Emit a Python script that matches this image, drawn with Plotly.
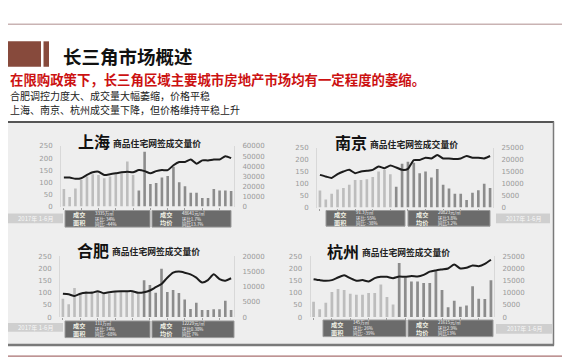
import plotly.graph_objects as go

W, H = 570, 360

# ---------------- data ----------------
months = ["2015-%02d" % m for m in range(1, 13)] + ["2016-%02d" % m for m in range(1, 13)] + ["2017-%02d" % m for m in range(1, 7)]

sh_area = [73, 40, 75, 110, 124, 133, 130, 117, 124, 133, 137, 186, 130, 66, 226,
           93, 97, 120, 126, 164, 100, 84, 57, 57, 35, 35, 73, 66, 66, 64]
sh_price = [28750, 28750, 27500, 28100, 31300, 33900, 34500, 31300, 32000, 32900, 33900, 34500, 33900, 36100, 35100,
            32900, 35100, 36100, 36100, 40900, 44100, 44100, 46600, 42500, 45700, 45700, 46600, 46600, 49800, 47900]

nj_area = [71, 34, 58, 76, 82, 96, 115, 115, 119, 128, 151, 158, 140, 87, 184,
           192, 188, 144, 151, 126, 162, 96, 80, 58, 58, 32, 62, 73, 100, 82]
nj_price = [13700, 13000, 12400, 14000, 15100, 15800, 14400, 15100, 15400, 15800, 17200, 16500, 17600, 16800, 15800,
            16200, 19900, 19900, 20900, 20600, 22000, 20600, 20600, 20300, 20600, 21600, 20900, 20900, 20600, 21600]

hf_area = [76, 53, 120, 96, 107, 107, 106, 96, 96, 103, 107, 107, 103, 96, 152,
           132, 100, 199, 103, 112, 99, 72, 33, 59, 29, 29, 32, 32, 67, 29]
hf_price = [7700, 7500, 6950, 7700, 8000, 8000, 8550, 7900, 8200, 8450, 8550, 8550, 8550, 8000, 8200,
            8770, 9840, 10900, 13000, 14650, 15000, 14650, 14100, 13000, 11400, 12200, 14100, 12500, 12000, 12800]

hz_area = [63, 32, 59, 103, 116, 112, 96, 92, 92, 99, 99, 134, 83, 52, 223,
           163, 147, 147, 140, 140, 190, 112, 40, 67, 43, 48, 127, 76, 74, 152]
hz_price = [15640, 15240, 14970, 15240, 16310, 17250, 16040, 14970, 15240, 14700, 16040, 16580, 16580, 16040, 16710,
            16580, 16980, 16710, 17380, 18720, 19250, 19650, 20050, 21660, 20050, 20320, 21260, 20990, 21930, 23660]

city_names = ["上海", "南京", "合肥", "杭州"]
subtitle = "商品住宅网签成交量价"
area_text = [["3335万㎡", "环比: 34%", "同比: -44%"],
             ["91.3万㎡", "环比: 55%", "同比: -38%"],
             ["111万㎡", "环比: 74%", "同比: -68%"],
             ["145万㎡", "环比: 26%", "同比: -39%"]]
price_text = [["48641元/㎡", "环比1.7%", "同比13.7%"],
              ["20823元/㎡", "环比3.8%", "同比3.2%"],
              ["12229元/㎡", "环比0.38%", "同比 7%"],
              ["21615元/㎡", "环比2.9%", "同比13%"]]
period_label = "2017年 1-6月"

slide_title = "长三角市场概述"
headline = "在限购政策下，长三角区域主要城市房地产市场均有一定程度的萎缩。"
bullet1 = "合肥调控力度大、成交量大幅萎缩，价格平稳"
bullet2 = "上海、南京、杭州成交量下降，但价格维持平稳上升"

areas = [sh_area, nj_area, hf_area, hz_area]
prices = [sh_price, nj_price, hf_price, hz_price]

# ---------------- geometry / style ----------------
def px(x):
    return x / W

def py(y):
    return 1 - y / H

geom = [
    dict(x0=53, x1=226, yb=199, yt=137, pmax=60000, pd=10000, split=13,
         tx=68, ty=132, box=(57, 142, 144, 223, 203, 220), pill=(0, 55, 206, 216)),
    dict(x0=309, x1=485, yb=200, yt=139, pmax=25000, pd=5000, split=13,
         tx=325, ty=133, box=(318, 397, 400, 482, 203, 219), pill=(488, 542, 206, 216)),
    dict(x0=52, x1=226, yb=312, yt=250, pmax=20000, pd=5000, split=14,
         tx=67, ty=243, box=(57, 142, 144, 226, 316, 333), pill=(0, 55, 318, 327)),
    dict(x0=302.5, x1=486, yb=312, yt=250, pmax=25000, pd=5000, split=14,
         tx=317, ty=244, box=(315, 398, 400, 485, 315, 332), pill=(488, 545, 319, 329)),
]

LIGHT = "#bdbdbd"
DARK = "#8c8c8c"
TICKC = "#9a9a9a"
FONT = "Noto Sans CJK SC"

fig = go.Figure()
layout = dict(width=W, height=H, margin=dict(l=0, r=0, t=0, b=0),
              paper_bgcolor="white", plot_bgcolor="rgba(0,0,0,0)",
              showlegend=False, font=dict(family=FONT))
shapes = []
annotations = []

# background panel & frame
shapes.append(dict(type="rect", xref="paper", yref="paper", x0=0, x1=px(545), y0=py(340), y1=py(113),
                   fillcolor="#eeeeee", line=dict(width=0), layer="below"))
shapes.append(dict(type="line", xref="paper", yref="paper", x0=0, x1=px(546), y0=py(112.5), y1=py(112.5),
                   line=dict(color="#555555", width=2)))
shapes.append(dict(type="line", xref="paper", yref="paper", x0=0, x1=px(546), y0=py(340.5), y1=py(340.5),
                   line=dict(color="#7a7a7a", width=2.5)))
shapes.append(dict(type="line", xref="paper", yref="paper", x0=px(545.5), x1=px(545.5), y0=py(341), y1=py(112),
                   line=dict(color="#7a7a7a", width=1.5)))
# slide lines
shapes.append(dict(type="line", xref="paper", yref="paper", x0=0, x1=1, y0=py(12.5), y1=py(12.5),
                   line=dict(color="#c9b3b3", width=1.5)))
shapes.append(dict(type="line", xref="paper", yref="paper", x0=0, x1=1, y0=py(352), y1=py(352),
                   line=dict(color="#a87070", width=1.2)))
# title blocks
shapes.append(dict(type="rect", xref="paper", yref="paper", x0=0, x1=px(33), y0=py(56), y1=py(30),
                   fillcolor="#874a3c", line=dict(width=0)))
shapes.append(dict(type="rect", xref="paper", yref="paper", x0=px(35.5), x1=px(41), y0=py(56), y1=py(30),
                   fillcolor="#874a3c", line=dict(width=0)))

annotations.append(dict(text="<b>" + slide_title + "</b>", x=px(53), y=py(45), xref="paper", yref="paper",
                        xanchor="left", yanchor="middle", showarrow=False,
                        font=dict(size=18.5, color="#111111", family=FONT)))
annotations.append(dict(text="<b>" + headline + "</b>", x=0, y=py(69), xref="paper", yref="paper",
                        xanchor="left", yanchor="middle", showarrow=False,
                        font=dict(size=13.4, color="#cc1111", family=FONT)))
annotations.append(dict(text=bullet1, x=0, y=py(85), xref="paper", yref="paper",
                        xanchor="left", yanchor="middle", showarrow=False,
                        font=dict(size=10, color="#222222", family=FONT)))
annotations.append(dict(text=bullet2, x=0, y=py(100), xref="paper", yref="paper",
                        xanchor="left", yanchor="middle", showarrow=False,
                        font=dict(size=10, color="#222222", family=FONT)))

for i, g in enumerate(geom):
    xa, yl, yr = i + 1, 2 * i + 1, 2 * i + 2
    xs = "x" if xa == 1 else "x%d" % xa
    yls = "y" if yl == 1 else "y%d" % yl
    yrs = "y%d" % yr
    colors = [LIGHT if k < g["split"] else DARK for k in range(len(months))]
    fig.add_trace(go.Bar(x=months, y=areas[i], xaxis=xs, yaxis=yls, marker=dict(color=colors, line=dict(width=0)),
                         width=0.45))
    fig.add_trace(go.Scatter(x=months, y=prices[i], xaxis=xs, yaxis=yrs, mode="lines",
                             line=dict(color="#1c1c1c", width=2, shape="spline", smoothing=0.6)))
    xd = [px(g["x0"]), px(g["x1"])]
    yd = [py(g["yb"]), py(g["yt"])]
    layout["xaxis" if xa == 1 else "xaxis%d" % xa] = dict(
        domain=xd, anchor=yls, type="category", showticklabels=False, showgrid=False, zeroline=False,
        ticks="outside", ticklen=2, tickcolor="#a0a0a0", showline=False, fixedrange=True)
    layout["yaxis" if yl == 1 else "yaxis%d" % yl] = dict(
        domain=yd, anchor=xs, range=[0, 250], dtick=50, showgrid=False, zeroline=False,
        tickfont=dict(size=7, color=TICKC, family="DejaVu Sans"), ticks="", ticklabelstandoff=6,
        showline=True, linecolor="#d8d8d8", linewidth=1)
    layout["yaxis%d" % yr] = dict(
        domain=yd, anchor=xs, overlaying=yls, side="right", range=[0, g["pmax"]], dtick=g["pd"],
        tickformat="d", showgrid=False, zeroline=False,
        tickfont=dict(size=7, color=TICKC, family="DejaVu Sans"), ticks="", ticklabelstandoff=6,
        showline=True, linecolor="#d8d8d8", linewidth=1)
    # chart title
    annotations.append(dict(text="<b>" + city_names[i] + "</b>", x=px(g["tx"]), y=py(g["ty"]), xref="paper",
                            yref="paper", xanchor="left", yanchor="middle", showarrow=False,
                            font=dict(size=16, color="#111111", family=FONT)))
    annotations.append(dict(text="<b>" + subtitle + "</b>", x=px(g["tx"] + 35), y=py(g["ty"] + 2), xref="paper",
                            yref="paper", xanchor="left", yanchor="middle", showarrow=False,
                            font=dict(size=8.8, color="#222222", family=FONT)))
    # stat boxes
    bx0, bx1, bx2, bx3, by0, by1 = g["box"]
    for (a, b, lab, lines) in [(bx0, bx1, ("成交", "面积"), area_text[i]), (bx2, bx3, ("成交", "均价"), price_text[i])]:
        shapes.append(dict(type="rect", xref="paper", yref="paper", x0=px(a), x1=px(b), y0=py(by1), y1=py(by0),
                           fillcolor="#6b6b6b", line=dict(color="#9a9a9a", width=1)))
        annotations.append(dict(text="<b>" + lab[0] + "<br>" + lab[1] + "</b>", x=px(a + 6), y=py((by0 + by1) / 2),
                                xref="paper", yref="paper", xanchor="left", yanchor="middle", showarrow=False,
                                align="left", font=dict(size=6.2, color="#f2f2e6", family=FONT)))
        annotations.append(dict(text="<br>".join(lines), x=px(a + 28), y=py((by0 + by1) / 2),
                                xref="paper", yref="paper", xanchor="left", yanchor="middle", showarrow=False,
                                align="left", font=dict(size=4.4, color="#f5f5f5", family=FONT)))
    # period pill
    p0, p1, q0, q1 = g["pill"]
    shapes.append(dict(type="rect", xref="paper", yref="paper", x0=px(p0), x1=px(p1), y0=py(q1), y1=py(q0),
                       fillcolor="#cfcfcf", line=dict(width=0)))
    annotations.append(dict(text=period_label, x=px((p0 + p1) / 2), y=py((q0 + q1) / 2), xref="paper",
                            yref="paper", xanchor="center", yanchor="middle", showarrow=False,
                            font=dict(size=6, color="#f8f8f8", family=FONT)))

layout["shapes"] = shapes
layout["annotations"] = annotations
fig.update_layout(**layout)
fig.write_html("out.html")
